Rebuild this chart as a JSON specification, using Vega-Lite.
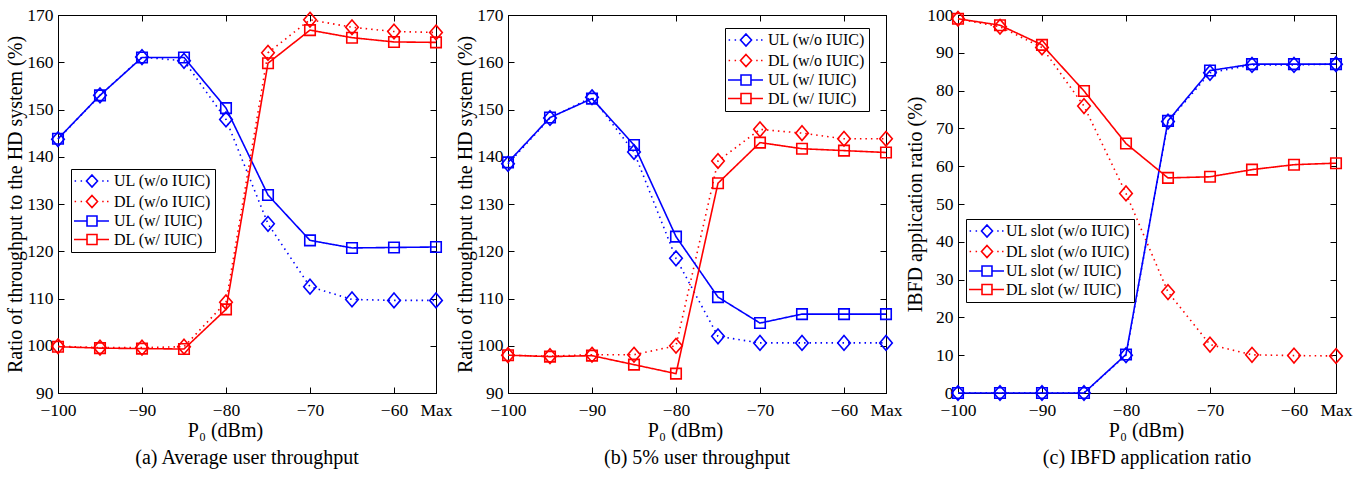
{
  "$schema": "https://vega.github.io/schema/vega-lite/v6.json",
  "background": "white",
  "padding": {"left": 5, "top": 5, "right": 5, "bottom": 2},
  "bounds": "flush",
  "spacing": 72,
  "datasets": {
    "a": [
      {"p":-100,"s":"UL (w/o IUIC)","k":"w/o","v":143.7},{"p":-95,"s":"UL (w/o IUIC)","k":"w/o","v":153.0},{"p":-90,"s":"UL (w/o IUIC)","k":"w/o","v":161.1},{"p":-85,"s":"UL (w/o IUIC)","k":"w/o","v":160.3},{"p":-80,"s":"UL (w/o IUIC)","k":"w/o","v":147.9},{"p":-75,"s":"UL (w/o IUIC)","k":"w/o","v":125.8},{"p":-70,"s":"UL (w/o IUIC)","k":"w/o","v":112.5},{"p":-65,"s":"UL (w/o IUIC)","k":"w/o","v":109.8},{"p":-60,"s":"UL (w/o IUIC)","k":"w/o","v":109.6},{"p":-55,"s":"UL (w/o IUIC)","k":"w/o","v":109.6},
      {"p":-100,"s":"DL (w/o IUIC)","k":"w/o","v":99.9},{"p":-95,"s":"DL (w/o IUIC)","k":"w/o","v":99.6},{"p":-90,"s":"DL (w/o IUIC)","k":"w/o","v":99.6},{"p":-85,"s":"DL (w/o IUIC)","k":"w/o","v":99.8},{"p":-80,"s":"DL (w/o IUIC)","k":"w/o","v":109.2},{"p":-75,"s":"DL (w/o IUIC)","k":"w/o","v":162.0},{"p":-70,"s":"DL (w/o IUIC)","k":"w/o","v":169.0},{"p":-65,"s":"DL (w/o IUIC)","k":"w/o","v":167.4},{"p":-60,"s":"DL (w/o IUIC)","k":"w/o","v":166.5},{"p":-55,"s":"DL (w/o IUIC)","k":"w/o","v":166.3},
      {"p":-100,"s":"UL (w/ IUIC)","k":"w/","v":143.8},{"p":-95,"s":"UL (w/ IUIC)","k":"w/","v":153.0},{"p":-90,"s":"UL (w/ IUIC)","k":"w/","v":161.0},{"p":-85,"s":"UL (w/ IUIC)","k":"w/","v":161.0},{"p":-80,"s":"UL (w/ IUIC)","k":"w/","v":150.3},{"p":-75,"s":"UL (w/ IUIC)","k":"w/","v":131.9},{"p":-70,"s":"UL (w/ IUIC)","k":"w/","v":122.3},{"p":-65,"s":"UL (w/ IUIC)","k":"w/","v":120.7},{"p":-60,"s":"UL (w/ IUIC)","k":"w/","v":120.8},{"p":-55,"s":"UL (w/ IUIC)","k":"w/","v":120.9},
      {"p":-100,"s":"DL (w/ IUIC)","k":"w/","v":99.8},{"p":-95,"s":"DL (w/ IUIC)","k":"w/","v":99.5},{"p":-90,"s":"DL (w/ IUIC)","k":"w/","v":99.4},{"p":-85,"s":"DL (w/ IUIC)","k":"w/","v":99.3},{"p":-80,"s":"DL (w/ IUIC)","k":"w/","v":107.7},{"p":-75,"s":"DL (w/ IUIC)","k":"w/","v":159.8},{"p":-70,"s":"DL (w/ IUIC)","k":"w/","v":166.8},{"p":-65,"s":"DL (w/ IUIC)","k":"w/","v":165.2},{"p":-60,"s":"DL (w/ IUIC)","k":"w/","v":164.3},{"p":-55,"s":"DL (w/ IUIC)","k":"w/","v":164.2}
    ],
    "b": [
      {"p":-100,"s":"UL (w/o IUIC)","k":"w/o","v":138.5},{"p":-95,"s":"UL (w/o IUIC)","k":"w/o","v":148.2},{"p":-90,"s":"UL (w/o IUIC)","k":"w/o","v":152.6},{"p":-85,"s":"UL (w/o IUIC)","k":"w/o","v":141.0},{"p":-80,"s":"UL (w/o IUIC)","k":"w/o","v":118.5},{"p":-75,"s":"UL (w/o IUIC)","k":"w/o","v":102.0},{"p":-70,"s":"UL (w/o IUIC)","k":"w/o","v":100.6},{"p":-65,"s":"UL (w/o IUIC)","k":"w/o","v":100.6},{"p":-60,"s":"UL (w/o IUIC)","k":"w/o","v":100.6},{"p":-55,"s":"UL (w/o IUIC)","k":"w/o","v":100.6},
      {"p":-100,"s":"DL (w/o IUIC)","k":"w/o","v":98.0},{"p":-95,"s":"DL (w/o IUIC)","k":"w/o","v":97.8},{"p":-90,"s":"DL (w/o IUIC)","k":"w/o","v":98.1},{"p":-85,"s":"DL (w/o IUIC)","k":"w/o","v":98.1},{"p":-80,"s":"DL (w/o IUIC)","k":"w/o","v":100.0},{"p":-75,"s":"DL (w/o IUIC)","k":"w/o","v":139.1},{"p":-70,"s":"DL (w/o IUIC)","k":"w/o","v":145.8},{"p":-65,"s":"DL (w/o IUIC)","k":"w/o","v":145.0},{"p":-60,"s":"DL (w/o IUIC)","k":"w/o","v":143.8},{"p":-55,"s":"DL (w/o IUIC)","k":"w/o","v":143.8},
      {"p":-100,"s":"UL (w/ IUIC)","k":"w/","v":138.8},{"p":-95,"s":"UL (w/ IUIC)","k":"w/","v":148.3},{"p":-90,"s":"UL (w/ IUIC)","k":"w/","v":152.3},{"p":-85,"s":"UL (w/ IUIC)","k":"w/","v":142.5},{"p":-80,"s":"UL (w/ IUIC)","k":"w/","v":123.1},{"p":-75,"s":"UL (w/ IUIC)","k":"w/","v":110.3},{"p":-70,"s":"UL (w/ IUIC)","k":"w/","v":104.8},{"p":-65,"s":"UL (w/ IUIC)","k":"w/","v":106.7},{"p":-60,"s":"UL (w/ IUIC)","k":"w/","v":106.7},{"p":-55,"s":"UL (w/ IUIC)","k":"w/","v":106.7},
      {"p":-100,"s":"DL (w/ IUIC)","k":"w/","v":98.0},{"p":-95,"s":"DL (w/ IUIC)","k":"w/","v":97.7},{"p":-90,"s":"DL (w/ IUIC)","k":"w/","v":97.9},{"p":-85,"s":"DL (w/ IUIC)","k":"w/","v":96.0},{"p":-80,"s":"DL (w/ IUIC)","k":"w/","v":94.1},{"p":-75,"s":"DL (w/ IUIC)","k":"w/","v":134.4},{"p":-70,"s":"DL (w/ IUIC)","k":"w/","v":143.0},{"p":-65,"s":"DL (w/ IUIC)","k":"w/","v":141.7},{"p":-60,"s":"DL (w/ IUIC)","k":"w/","v":141.3},{"p":-55,"s":"DL (w/ IUIC)","k":"w/","v":140.9}
    ],
    "c": [
      {"p":-100,"s":"UL slot (w/o IUIC)","k":"w/o","v":0},{"p":-95,"s":"UL slot (w/o IUIC)","k":"w/o","v":0},{"p":-90,"s":"UL slot (w/o IUIC)","k":"w/o","v":0},{"p":-85,"s":"UL slot (w/o IUIC)","k":"w/o","v":0},{"p":-80,"s":"UL slot (w/o IUIC)","k":"w/o","v":10.0},{"p":-75,"s":"UL slot (w/o IUIC)","k":"w/o","v":71.8},{"p":-70,"s":"UL slot (w/o IUIC)","k":"w/o","v":84.7},{"p":-65,"s":"UL slot (w/o IUIC)","k":"w/o","v":86.8},{"p":-60,"s":"UL slot (w/o IUIC)","k":"w/o","v":86.8},{"p":-55,"s":"UL slot (w/o IUIC)","k":"w/o","v":87.0},
      {"p":-100,"s":"DL slot (w/o IUIC)","k":"w/o","v":99.0},{"p":-95,"s":"DL slot (w/o IUIC)","k":"w/o","v":96.9},{"p":-90,"s":"DL slot (w/o IUIC)","k":"w/o","v":91.4},{"p":-85,"s":"DL slot (w/o IUIC)","k":"w/o","v":75.9},{"p":-80,"s":"DL slot (w/o IUIC)","k":"w/o","v":52.8},{"p":-75,"s":"DL slot (w/o IUIC)","k":"w/o","v":26.7},{"p":-70,"s":"DL slot (w/o IUIC)","k":"w/o","v":12.8},{"p":-65,"s":"DL slot (w/o IUIC)","k":"w/o","v":10.1},{"p":-60,"s":"DL slot (w/o IUIC)","k":"w/o","v":9.9},{"p":-55,"s":"DL slot (w/o IUIC)","k":"w/o","v":9.8},
      {"p":-100,"s":"UL slot (w/ IUIC)","k":"w/","v":0},{"p":-95,"s":"UL slot (w/ IUIC)","k":"w/","v":0},{"p":-90,"s":"UL slot (w/ IUIC)","k":"w/","v":0},{"p":-85,"s":"UL slot (w/ IUIC)","k":"w/","v":0},{"p":-80,"s":"UL slot (w/ IUIC)","k":"w/","v":10.2},{"p":-75,"s":"UL slot (w/ IUIC)","k":"w/","v":72.0},{"p":-70,"s":"UL slot (w/ IUIC)","k":"w/","v":85.3},{"p":-65,"s":"UL slot (w/ IUIC)","k":"w/","v":87.0},{"p":-60,"s":"UL slot (w/ IUIC)","k":"w/","v":87.0},{"p":-55,"s":"UL slot (w/ IUIC)","k":"w/","v":87.0},
      {"p":-100,"s":"DL slot (w/ IUIC)","k":"w/","v":99.0},{"p":-95,"s":"DL slot (w/ IUIC)","k":"w/","v":97.3},{"p":-90,"s":"DL slot (w/ IUIC)","k":"w/","v":92.1},{"p":-85,"s":"DL slot (w/ IUIC)","k":"w/","v":79.9},{"p":-80,"s":"DL slot (w/ IUIC)","k":"w/","v":66.0},{"p":-75,"s":"DL slot (w/ IUIC)","k":"w/","v":56.9},{"p":-70,"s":"DL slot (w/ IUIC)","k":"w/","v":57.2},{"p":-65,"s":"DL slot (w/ IUIC)","k":"w/","v":59.1},{"p":-60,"s":"DL slot (w/ IUIC)","k":"w/","v":60.4},{"p":-55,"s":"DL slot (w/ IUIC)","k":"w/","v":60.8}
    ]
  },
  "hconcat": [
    {
      "width": 378, "height": 378,
      "data": {"name": "a"},
      "title": {"text": "(a) Average user throughput", "orient": "bottom", "offset": 7},
      "layer": [
        {
          "mark": {"type": "line", "strokeWidth": 1.6},
          "encoding": {
            "x": {"field": "p", "type": "quantitative", "scale": {"domain": [-100, -55], "nice": false, "zero": false},
                  "axis": {"orient": "bottom", "values": [-100,-90,-80,-70,-60,-55], "labelExpr": "datum.value == -55 ? 'Max' : '−' + abs(datum.value)", "labelFlush": false, "labelOverlap": false, "labelPadding": 14, "titlePadding": 2, "titleX": 167, "title": "P₀ (dBm)"}},
            "y": {"field": "v", "type": "quantitative", "scale": {"domain": [90, 170], "nice": false, "zero": false},
                  "axis": {"orient": "left", "values": [90,100,110,120,130,140,150,160,170], "labelPadding": 11, "titlePadding": 1, "title": "Ratio of throughput to the HD system (%)"}},
            "color": {"field": "s", "type": "nominal", "scale": {"domain": ["UL (w/o IUIC)", "DL (w/o IUIC)", "UL (w/ IUIC)", "DL (w/ IUIC)"], "range": ["#0000ff", "#ff0000", "#0000ff", "#ff0000"]}, "legend": null},
            "strokeDash": {"field": "k", "type": "nominal", "scale": {"domain": ["w/o", "w/"], "range": [[1.5, 4], [1, 0]]}, "legend": null}
          }
        },
        {
          "mark": {"type": "point", "filled": false, "strokeWidth": 1.6, "size": 49, "opacity": 1},
          "encoding": {
            "x": {"field": "p", "type": "quantitative", "scale": {"domain": [-100, -55], "nice": false, "zero": false},
                  "axis": {"orient": "top", "values": [-100,-90,-80,-70,-60,-55], "labels": false, "title": null}},
            "y": {"field": "v", "type": "quantitative", "scale": {"domain": [90, 170], "nice": false, "zero": false},
                  "axis": {"orient": "right", "values": [90,100,110,120,130,140,150,160,170], "labels": false, "title": null}},
            "color": {"field": "s", "type": "nominal", "scale": {"domain": ["UL (w/o IUIC)", "DL (w/o IUIC)", "UL (w/ IUIC)", "DL (w/ IUIC)"], "range": ["#0000ff", "#ff0000", "#0000ff", "#ff0000"]}, "legend": null},
            "shape": {"field": "k", "type": "nominal", "scale": {"domain": ["w/o", "w/"], "range": ["M0,-2.1L1.8,0L0,2.1L-1.8,0Z", "M-1.5,-1.5H1.5V1.5H-1.5Z"]}, "legend": null}
          }
        },
        {
          "transform": [{"filter": "datum.v > 1000"}],
          "mark": {"type": "point", "filled": false, "strokeWidth": 1.6},
          "encoding": {
            "x": {"field": "p", "type": "quantitative", "scale": {"domain": [-100, -55], "nice": false, "zero": false}, "axis": null},
            "y": {"field": "v", "type": "quantitative", "scale": {"domain": [90, 170], "nice": false, "zero": false}, "axis": null},
            "color": {"field": "s", "type": "nominal", "scale": {"domain": ["UL (w/o IUIC)", "DL (w/o IUIC)", "UL (w/ IUIC)", "DL (w/ IUIC)"], "range": ["#0000ff", "#ff0000", "#0000ff", "#ff0000"]},
                      "legend": {"orient": "none", "legendX": 13, "legendY": 154, "title": null, "strokeColor": "black", "fillColor": "white", "padding": 4, "labelFont": "Liberation Serif", "labelFontSize": 16, "labelColor": "black", "symbolSize": 144, "symbolStrokeWidth": 1.6, "symbolOpacity": 1, "labelOffset": 23, "rowPadding": 0.5}},
            "shape": {"field": "s", "type": "nominal", "scale": {"domain": ["UL (w/o IUIC)", "DL (w/o IUIC)", "UL (w/ IUIC)", "DL (w/ IUIC)"], "range": ["M-1.4,0H-1.15M-0.4,0H-0.15M1.5,-1L2.42,0L1.5,1L0.58,0ZM3.2,0H3.45M4,0H4.25", "M-1.4,0H-1.15M-0.4,0H-0.15M1.5,-1L2.42,0L1.5,1L0.58,0ZM3.2,0H3.45M4,0H4.25", "M-1.5,0H0.67M0.67,-0.83H2.33V0.83H0.67ZM2.33,0H4.33", "M-1.5,0H0.67M0.67,-0.83H2.33V0.83H0.67ZM2.33,0H4.33"]},
                      "legend": {"orient": "none", "legendX": 13, "legendY": 154, "title": null, "strokeColor": "black", "fillColor": "white", "padding": 4, "labelFont": "Liberation Serif", "labelFontSize": 16, "labelColor": "black", "symbolSize": 144, "symbolStrokeWidth": 1.6, "symbolOpacity": 1, "labelOffset": 23, "rowPadding": 0.5}}
          }
        }
      ],
      "resolve": {"axis": {"x": "independent", "y": "independent"}, "scale": {"shape": "independent", "color": "independent"}}
    },
    {
      "width": 378, "height": 378,
      "data": {"name": "b"},
      "title": {"text": "(b) 5% user throughput", "orient": "bottom", "offset": 7},
      "layer": [
        {
          "mark": {"type": "line", "strokeWidth": 1.6},
          "encoding": {
            "x": {"field": "p", "type": "quantitative", "scale": {"domain": [-100, -55], "nice": false, "zero": false},
                  "axis": {"orient": "bottom", "values": [-100,-90,-80,-70,-60,-55], "labelExpr": "datum.value == -55 ? 'Max' : '−' + abs(datum.value)", "labelFlush": false, "labelOverlap": false, "labelPadding": 14, "titlePadding": 2, "titleX": 177, "title": "P₀ (dBm)"}},
            "y": {"field": "v", "type": "quantitative", "scale": {"domain": [90, 170], "nice": false, "zero": false},
                  "axis": {"orient": "left", "values": [90,100,110,120,130,140,150,160,170], "labelPadding": 11, "titlePadding": 1, "title": "Ratio of throughput to the HD system (%)"}},
            "color": {"field": "s", "type": "nominal", "scale": {"domain": ["UL (w/o IUIC)", "DL (w/o IUIC)", "UL (w/ IUIC)", "DL (w/ IUIC)"], "range": ["#0000ff", "#ff0000", "#0000ff", "#ff0000"]}, "legend": null},
            "strokeDash": {"field": "k", "type": "nominal", "scale": {"domain": ["w/o", "w/"], "range": [[1.5, 4], [1, 0]]}, "legend": null}
          }
        },
        {
          "mark": {"type": "point", "filled": false, "strokeWidth": 1.6, "size": 49, "opacity": 1},
          "encoding": {
            "x": {"field": "p", "type": "quantitative", "scale": {"domain": [-100, -55], "nice": false, "zero": false},
                  "axis": {"orient": "top", "values": [-100,-90,-80,-70,-60,-55], "labels": false, "title": null}},
            "y": {"field": "v", "type": "quantitative", "scale": {"domain": [90, 170], "nice": false, "zero": false},
                  "axis": {"orient": "right", "values": [90,100,110,120,130,140,150,160,170], "labels": false, "title": null}},
            "color": {"field": "s", "type": "nominal", "scale": {"domain": ["UL (w/o IUIC)", "DL (w/o IUIC)", "UL (w/ IUIC)", "DL (w/ IUIC)"], "range": ["#0000ff", "#ff0000", "#0000ff", "#ff0000"]}, "legend": null},
            "shape": {"field": "k", "type": "nominal", "scale": {"domain": ["w/o", "w/"], "range": ["M0,-2.1L1.8,0L0,2.1L-1.8,0Z", "M-1.5,-1.5H1.5V1.5H-1.5Z"]}, "legend": null}
          }
        },
        {
          "transform": [{"filter": "datum.v > 1000"}],
          "mark": {"type": "point", "filled": false, "strokeWidth": 1.6},
          "encoding": {
            "x": {"field": "p", "type": "quantitative", "scale": {"domain": [-100, -55], "nice": false, "zero": false}, "axis": null},
            "y": {"field": "v", "type": "quantitative", "scale": {"domain": [90, 170], "nice": false, "zero": false}, "axis": null},
            "color": {"field": "s", "type": "nominal", "scale": {"domain": ["UL (w/o IUIC)", "DL (w/o IUIC)", "UL (w/ IUIC)", "DL (w/ IUIC)"], "range": ["#0000ff", "#ff0000", "#0000ff", "#ff0000"]},
                      "legend": {"orient": "none", "legendX": 217, "legendY": 13, "title": null, "strokeColor": "black", "fillColor": "white", "padding": 4, "labelFont": "Liberation Serif", "labelFontSize": 16, "labelColor": "black", "symbolSize": 144, "symbolStrokeWidth": 1.6, "symbolOpacity": 1, "labelOffset": 23, "rowPadding": 0.5}},
            "shape": {"field": "s", "type": "nominal", "scale": {"domain": ["UL (w/o IUIC)", "DL (w/o IUIC)", "UL (w/ IUIC)", "DL (w/ IUIC)"], "range": ["M-1.4,0H-1.15M-0.4,0H-0.15M1.5,-1L2.42,0L1.5,1L0.58,0ZM3.2,0H3.45M4,0H4.25", "M-1.4,0H-1.15M-0.4,0H-0.15M1.5,-1L2.42,0L1.5,1L0.58,0ZM3.2,0H3.45M4,0H4.25", "M-1.5,0H0.67M0.67,-0.83H2.33V0.83H0.67ZM2.33,0H4.33", "M-1.5,0H0.67M0.67,-0.83H2.33V0.83H0.67ZM2.33,0H4.33"]},
                      "legend": {"orient": "none", "legendX": 217, "legendY": 13, "title": null, "strokeColor": "black", "fillColor": "white", "padding": 4, "labelFont": "Liberation Serif", "labelFontSize": 16, "labelColor": "black", "symbolSize": 144, "symbolStrokeWidth": 1.6, "symbolOpacity": 1, "labelOffset": 23, "rowPadding": 0.5}}
          }
        }
      ],
      "resolve": {"axis": {"x": "independent", "y": "independent"}, "scale": {"shape": "independent", "color": "independent"}}
    },
    {
      "width": 378, "height": 378,
      "data": {"name": "c"},
      "title": {"text": "(c) IBFD application ratio", "orient": "bottom", "offset": 7},
      "layer": [
        {
          "mark": {"type": "line", "strokeWidth": 1.6},
          "encoding": {
            "x": {"field": "p", "type": "quantitative", "scale": {"domain": [-100, -55], "nice": false, "zero": false},
                  "axis": {"orient": "bottom", "values": [-100,-90,-80,-70,-60,-55], "labelExpr": "datum.value == -55 ? 'Max' : '−' + abs(datum.value)", "labelFlush": false, "labelOverlap": false, "labelPadding": 14, "titlePadding": 2, "titleX": 188, "title": "P₀ (dBm)"}},
            "y": {"field": "v", "type": "quantitative", "scale": {"domain": [0, 100], "nice": false, "zero": false},
                  "axis": {"orient": "left", "values": [0,10,20,30,40,50,60,70,80,90,100], "labelPadding": 11, "titlePadding": 1, "title": "IBFD application ratio (%)"}},
            "color": {"field": "s", "type": "nominal", "scale": {"domain": ["UL slot (w/o IUIC)", "DL slot (w/o IUIC)", "UL slot (w/ IUIC)", "DL slot (w/ IUIC)"], "range": ["#0000ff", "#ff0000", "#0000ff", "#ff0000"]}, "legend": null},
            "strokeDash": {"field": "k", "type": "nominal", "scale": {"domain": ["w/o", "w/"], "range": [[1.5, 4], [1, 0]]}, "legend": null}
          }
        },
        {
          "mark": {"type": "point", "filled": false, "strokeWidth": 1.6, "size": 49, "opacity": 1},
          "encoding": {
            "x": {"field": "p", "type": "quantitative", "scale": {"domain": [-100, -55], "nice": false, "zero": false},
                  "axis": {"orient": "top", "values": [-100,-90,-80,-70,-60,-55], "labels": false, "title": null}},
            "y": {"field": "v", "type": "quantitative", "scale": {"domain": [0, 100], "nice": false, "zero": false},
                  "axis": {"orient": "right", "values": [0,10,20,30,40,50,60,70,80,90,100], "labels": false, "title": null}},
            "color": {"field": "s", "type": "nominal", "scale": {"domain": ["UL slot (w/o IUIC)", "DL slot (w/o IUIC)", "UL slot (w/ IUIC)", "DL slot (w/ IUIC)"], "range": ["#0000ff", "#ff0000", "#0000ff", "#ff0000"]}, "legend": null},
            "shape": {"field": "k", "type": "nominal", "scale": {"domain": ["w/o", "w/"], "range": ["M0,-2.1L1.8,0L0,2.1L-1.8,0Z", "M-1.5,-1.5H1.5V1.5H-1.5Z"]}, "legend": null}
          }
        },
        {
          "transform": [{"filter": "datum.v > 1000"}],
          "mark": {"type": "point", "filled": false, "strokeWidth": 1.6},
          "encoding": {
            "x": {"field": "p", "type": "quantitative", "scale": {"domain": [-100, -55], "nice": false, "zero": false}, "axis": null},
            "y": {"field": "v", "type": "quantitative", "scale": {"domain": [0, 100], "nice": false, "zero": false}, "axis": null},
            "color": {"field": "s", "type": "nominal", "scale": {"domain": ["UL slot (w/o IUIC)", "DL slot (w/o IUIC)", "UL slot (w/ IUIC)", "DL slot (w/ IUIC)"], "range": ["#0000ff", "#ff0000", "#0000ff", "#ff0000"]},
                      "legend": {"orient": "none", "legendX": 8, "legendY": 204, "title": null, "strokeColor": "black", "fillColor": "white", "padding": 4, "labelFont": "Liberation Serif", "labelFontSize": 16, "labelColor": "black", "symbolSize": 144, "symbolStrokeWidth": 1.6, "symbolOpacity": 1, "labelOffset": 20, "rowPadding": 0.5}},
            "shape": {"field": "s", "type": "nominal", "scale": {"domain": ["UL slot (w/o IUIC)", "DL slot (w/o IUIC)", "UL slot (w/ IUIC)", "DL slot (w/ IUIC)"], "range": ["M-1.4,0H-1.15M-0.4,0H-0.15M1.5,-1L2.42,0L1.5,1L0.58,0ZM3.2,0H3.45M4,0H4.25", "M-1.4,0H-1.15M-0.4,0H-0.15M1.5,-1L2.42,0L1.5,1L0.58,0ZM3.2,0H3.45M4,0H4.25", "M-1.5,0H0.67M0.67,-0.83H2.33V0.83H0.67ZM2.33,0H4.33", "M-1.5,0H0.67M0.67,-0.83H2.33V0.83H0.67ZM2.33,0H4.33"]},
                      "legend": {"orient": "none", "legendX": 8, "legendY": 204, "title": null, "strokeColor": "black", "fillColor": "white", "padding": 4, "labelFont": "Liberation Serif", "labelFontSize": 16, "labelColor": "black", "symbolSize": 144, "symbolStrokeWidth": 1.6, "symbolOpacity": 1, "labelOffset": 20, "rowPadding": 0.5}}
          }
        }
      ],
      "resolve": {"axis": {"x": "independent", "y": "independent"}, "scale": {"shape": "independent", "color": "independent"}}
    }
  ],
  "resolve": {
    "scale": {"x": "independent", "y": "independent", "color": "independent", "shape": "independent", "strokeDash": "independent"},
    "legend": {"color": "independent", "shape": "independent"}
  },
  "config": {
    "font": "Liberation Serif",
    "view": {"stroke": "black", "strokeWidth": 1},
    "axis": {"labelFont": "Liberation Serif", "labelFontSize": 17.5, "labelColor": "black", "titleFont": "Liberation Serif", "titleFontSize": 20, "titleFontWeight": "normal", "titleColor": "black", "domainColor": "black", "domainWidth": 1, "tickColor": "black", "tickSize": -6, "tickWidth": 1, "grid": false},
    "title": {"font": "Liberation Serif", "fontSize": 20, "fontWeight": "normal", "color": "black"}
  }
}
